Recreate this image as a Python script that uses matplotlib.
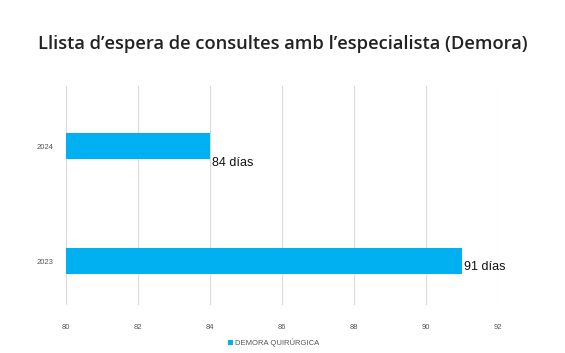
import matplotlib.pyplot as plt
import numpy as np

# Datos
anys = ['2023', '2024']
demora = [91, 84]
etiquetes = ['91 días', '84 días']
xticks = [80, 82, 84, 86, 88, 90, 92]

color_barra = '#00b0f0'

fig = plt.figure(figsize=(5.65, 3.53), dpi=100)
ax = fig.add_axes([0.1163, 0.136, 0.7646, 0.62])

pos = np.arange(len(anys))
ax.barh(pos, np.array(demora) - 80, left=80, height=0.23, color=color_barra,
        label='DEMORA QUIRÚRGICA', zorder=3)

# desplazamiento vertical de las etiquetas (puntos)
desp = [-4, -12]
for p, v, t, d in zip(pos, demora, etiquetes, desp):
    ax.annotate(t, (v, p), xytext=(2, d), textcoords='offset points',
                va='center', ha='left', fontsize=9,
                family='Liberation Sans', color='#111111')

ax.set_xlim(80, 92)
ax.set_ylim(-0.38, 1.52)
ax.set_xticks(xticks)
ax.set_yticks(pos)
ax.set_yticklabels(anys)
ax.tick_params(axis='both', length=0, labelsize=5.5, labelcolor='#555555')
ax.tick_params(axis='x', pad=14)
ax.tick_params(axis='y', pad=9)
for lbl in ax.get_xticklabels() + ax.get_yticklabels():
    lbl.set_family('Liberation Sans')
ax.grid(axis='x', color='#d9d9d9', linewidth=0.8, zorder=0)
for s in ax.spines.values():
    s.set_visible(False)

fig.text(0.5, 0.875, 'Llista d’espera de consultes amb l’especialista (Demora)',
         ha='center', va='center', fontsize=13.2, fontweight='semibold',
         family='Open Sans', color='#222222')

leg = fig.legend(loc='center', bbox_to_anchor=(0.485, 0.028), frameon=False,
                 handlelength=0.6, handleheight=0.6, handletextpad=0.3,
                 prop={'family': 'Liberation Sans', 'size': 5.5})
for t in leg.get_texts():
    t.set_color('#555555')

fig.savefig('out.png', dpi=100)
